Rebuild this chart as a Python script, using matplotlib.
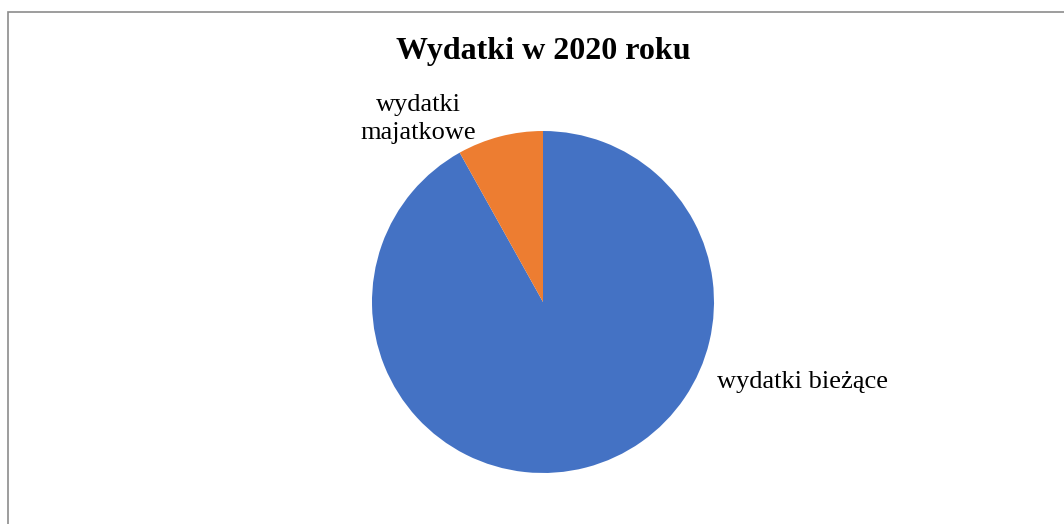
import matplotlib.pyplot as plt
from matplotlib.patches import Rectangle

# dane
kategorie = ['wydatki bieżące', 'wydatki\nmajatkowe']
udzialy = [91.9, 8.1]
kolory = ['#4472C4', '#ED7D31']

plt.rcParams['font.family'] = ['Liberation Serif', 'DejaVu Serif']

W, H = 1064, 524
fig = plt.figure(figsize=(W / 100, H / 100), dpi=100)

# ramka wykresu (prawa i dolna krawędź poza obrazkiem)
fig.patches.append(Rectangle((7.5 / W, -0.1), 1.2, 1 - 12 / H + 0.1,
                             transform=fig.transFigure, fill=False,
                             edgecolor='#8c8c8c', linewidth=1.2))

fig.text(543 / W, 1 - 51 / H, 'Wydatki w 2020 roku', ha='center', va='center',
         fontsize=23, fontweight='bold')

# koło: środek (543, 302), promień 171 px
r = 171
ax = fig.add_axes([(543 - r) / W, (H - 302 - r) / H, 2 * r / W, 2 * r / H])
wedges, texts = ax.pie(udzialy, labels=kategorie, colors=kolory, startangle=90,
                       counterclock=False, radius=1)
ax.set_xlim(-1, 1)
ax.set_ylim(-1, 1)
ax.axis('off')

# położenie etykiet jak w Excelu
texts[0].set_position((1.02, -0.47))
texts[0].set_ha('left')
texts[0].set_va('center')
texts[1].set_position((-0.73, 1.07))
texts[1].set_ha('center')
texts[1].set_va('center')
texts[1].set_multialignment('center')
texts[1].set_linespacing(1.3)
for t in texts:
    t.set_fontsize(19)

fig.savefig('out.png', dpi=100)
